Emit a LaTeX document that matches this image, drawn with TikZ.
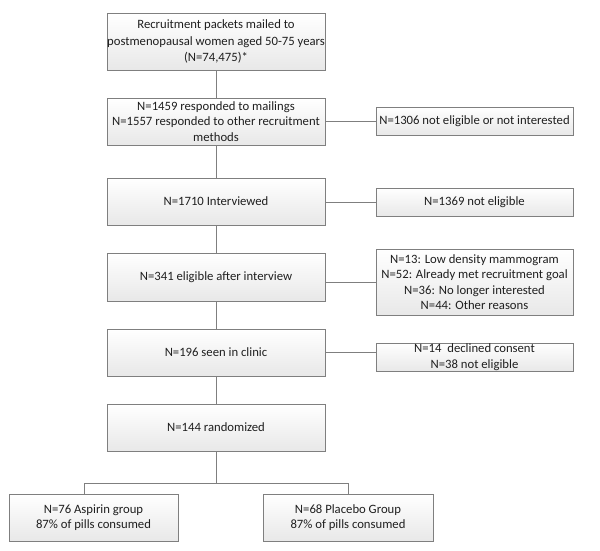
\documentclass[tikz,border=0pt]{standalone}
\usepackage{fontspec}
\setmainfont{Carlito}
\usetikzlibrary{shadows}
\definecolor{edge}{HTML}{7F7F7F}
\definecolor{txt}{HTML}{1F1F1F}
\tikzset{
  box/.style={draw=edge, line width=0.8pt, top color=white, bottom color=black!9,
    drop shadow={shadow xshift=1.2pt, shadow yshift=-1.2pt, opacity=0.25, fill=black},
    inner sep=0pt, align=center, text=txt,
    font=\fontsize{12.7}{15.5}\selectfont, anchor=center},
  link/.style={draw=edge, line width=0.8pt}
}
\begin{document}
\begin{tikzpicture}[x=1pt, y=-1pt]
\useasboundingbox (0,0) rectangle (600,551);
\fill[white] (0,0) rectangle (600,551);
\node[box, minimum width=218pt, minimum height=57pt, font=\fontsize{12.7}{16.5}\selectfont] (top) at (216,41.5)
  {Recruitment packets mailed to\\postmenopausal women aged 50-75 years\\(N=74,475)*};
\node[box, minimum width=218pt, minimum height=47pt] (b2) at (216,121.5)
  {N=1459 responded to mailings\\N=1557 responded to other recruitment\\methods};
\node[box, minimum width=218pt, minimum height=47pt] (b3) at (216,201.5)
  {N=1710 Interviewed};
\node[box, minimum width=218pt, minimum height=48pt] (b4) at (216,277)
  {N=341 eligible after interview};
\node[box, minimum width=218pt, minimum height=47pt] (b5) at (216,352.5)
  {N=196 seen in clinic};
\node[box, minimum width=218pt, minimum height=47pt] (b6) at (216,427.5)
  {N=144 randomized};
\node[box, minimum width=197pt, minimum height=28pt] (r1) at (474.5,121)
  {N=1306 not eligible or not interested};
\node[box, minimum width=197pt, minimum height=28pt] (r2) at (474.5,202)
  {N=1369 not eligible};
\node[box, minimum width=197pt, minimum height=66pt] (r3) at (474.5,282)
  {N=13: Low density mammogram\\N=52: Already met recruitment goal\\N=36: No longer interested\\N=44: Other reasons};
\node[box, minimum width=197pt, minimum height=28pt] (r4) at (474.5,357)
  {N=14\ \ declined consent\\N=38 not eligible};
\node[box, minimum width=169pt, minimum height=47pt] (gl) at (93.5,517.5)
  {N=76 Aspirin group\\87\% of pills consumed};
\node[box, minimum width=170pt, minimum height=47pt] (gr) at (348,517.5)
  {N=68 Placebo Group\\87\% of pills consumed};
\coordinate (split) at (216,483);
\coordinate (dl) at (84,483);
\coordinate (dr) at (348,483);
\draw[link] (top.south) -- (b2.north);
\draw[link] (b2.south) -- (b3.north);
\draw[link] (b3.south) -- (b4.north);
\draw[link] (b4.south) -- (b5.north);
\draw[link] (b5.south) -- (b6.north);
\draw[link] (r1.west) -- (r1.west -| b2.east);
\draw[link] (r2.west) -- (r2.west -| b3.east);
\draw[link] (r3.west) -- (r3.west -| b4.east);
\draw[link] (b5.east) -- (b5.east -| r4.west);
\draw[link] (b6.south) -- (split);
\draw[link] (dl) -- (dr);
\draw[link] (dl) -- (dl |- gl.north);
\draw[link] (dr) -- (gr.north);
\end{tikzpicture}
\end{document}
